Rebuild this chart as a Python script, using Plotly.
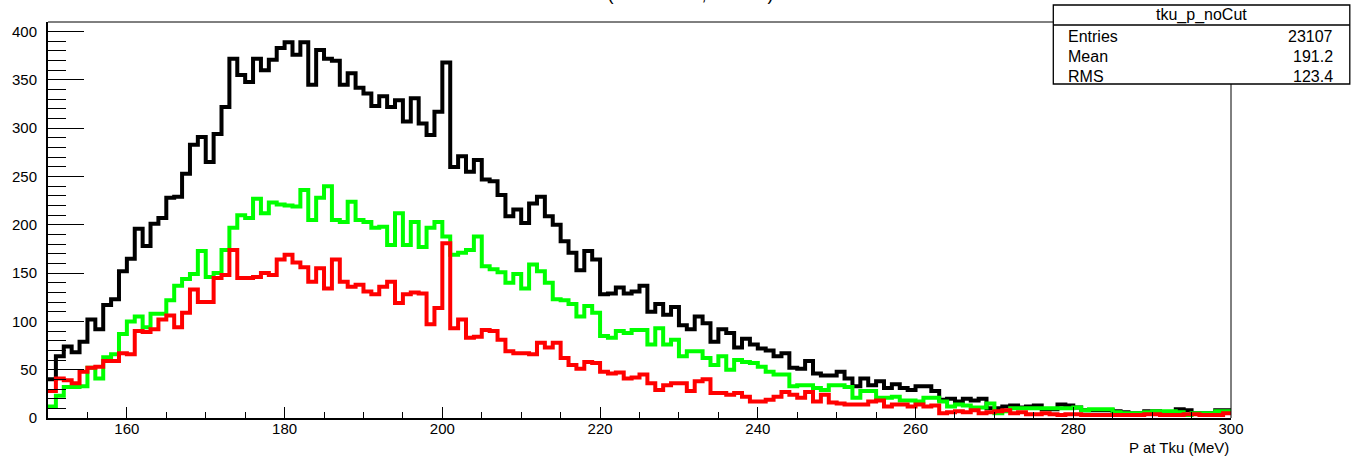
import plotly.graph_objects as go

# ---- data (1 MeV bins from 150 to 300 MeV) ----
bin_low = 150
bin_high = 300

black_counts = [
    40, 64, 74, 68, 79, 102, 92, 117, 123, 152,
    165, 196, 178, 201, 207, 228, 229, 253, 283, 291,
    265, 294, 322, 372, 355, 348, 372, 360, 371, 383,
    389, 376, 389, 345, 381, 372, 370, 345, 357, 342,
    336, 323, 333, 322, 329, 307, 331, 305, 293, 317,
    368, 260, 271, 255, 267, 247, 245, 231, 209, 216,
    202, 222, 229, 209, 200, 183, 171, 153, 173, 164,
    128, 129, 135, 129, 131, 137, 110, 118, 107, 115,
    96, 92, 105, 98, 79, 92, 88, 73, 82, 76,
    72, 70, 64, 67, 52, 51, 59, 46, 44, 44,
    48, 41, 33, 41, 34, 38, 31, 35, 31, 29,
    33, 33, 28, 19, 20, 17, 20, 18, 20, 10,
    10, 12, 13, 11, 12, 13, 9, 9, 14, 13,
    11, 8, 8, 8, 8, 7, 6, 5, 5, 7,
    7, 6, 6, 9, 8, 5, 5, 5, 8, 8,
]

green_counts = [
    12, 23, 32, 32, 33, 52, 41, 63, 66, 87,
    100, 105, 94, 108, 108, 122, 137, 144, 149, 173,
    146, 150, 174, 197, 210, 207, 227, 212, 223, 221,
    220, 219, 236, 205, 228, 240, 205, 203, 224, 205,
    203, 197, 198, 179, 212, 179, 203, 177, 197, 203,
    188, 169, 171, 174, 188, 157, 154, 151, 140, 149,
    134, 159, 152, 140, 123, 122, 118, 105, 116, 109,
    85, 83, 90, 88, 91, 91, 76, 93, 76, 81,
    64, 69, 69, 62, 55, 64, 50, 60, 58, 57,
    53, 48, 45, 45, 33, 34, 34, 31, 29, 34,
    34, 32, 21, 28, 28, 21, 21, 22, 18, 18,
    17, 21, 21, 17, 12, 14, 13, 11, 11, 15,
    5, 7, 10, 10, 10, 10, 10, 10, 10, 10,
    11, 8, 9, 9, 9, 6, 5, 5, 5, 6,
    7, 7, 7, 6, 3, 5, 5, 5, 7, 7,
]

red_counts = [
    28, 41, 39, 36, 48, 52, 53, 59, 59, 67,
    66, 90, 89, 92, 102, 106, 94, 109, 133, 120,
    120, 145, 148, 174, 145, 145, 146, 150, 148, 164,
    169, 161, 156, 141, 155, 134, 164, 141, 136, 138,
    131, 128, 136, 141, 119, 128, 130, 129, 97, 114,
    181, 93, 102, 83, 84, 91, 90, 81, 69, 67,
    67, 66, 78, 73, 78, 62, 55, 51, 58, 57,
    48, 46, 47, 41, 42, 45, 36, 29, 34, 36,
    36, 28, 38, 40, 26, 26, 24, 26, 22, 17,
    17, 19, 22, 27, 24, 21, 27, 17, 24, 16,
    15, 14, 14, 14, 17, 18, 12, 14, 14, 12,
    14, 12, 13, 5, 6, 7, 6, 8, 5, 6,
    7, 8, 5, 6, 4, 4, 5, 4, 3, 4,
    4, 3, 3, 3, 3, 3, 3, 3, 3, 4,
    4, 3, 3, 3, 4, 4, 3, 3, 3, 5,
]

y_tick_vals = [0, 50, 100, 150, 200, 250, 300, 350, 400]
x_tick_vals = [160, 180, 200, 220, 240, 260, 280, 300]

stats_title = "tku_p_noCut"
stats_names = ["Entries", "Mean", "RMS"]
stats_values = ["23107", "191.2", "123.4"]

x_title = "P at Tku (MeV)"
plot_title = "P at Tku (normalised, all cuts)"

# ---- figure ----
n_bins = len(black_counts)
width_bin = (bin_high - bin_low) / n_bins
edges = [bin_low + i * width_bin for i in range(n_bins + 1)]

FONT = "Liberation Sans, Arial, Helvetica, sans-serif"

fig = go.Figure()
for counts, color in [(black_counts, "#000000"), (green_counts, "#00ff00"), (red_counts, "#ff0000")]:
    fig.add_trace(go.Scatter(
        x=edges,
        y=list(counts) + [counts[-1]],
        mode="lines",
        line=dict(color=color, width=4, shape="hv"),
        hoverinfo="skip",
        showlegend=False,
        cliponaxis=True,
    ))

W, H = 1361, 456
L, R, T, B = 46, 130, 22, 38
pw = W - L - R
ph = H - T - B


def px(xp):
    return (xp - L) / pw


def py(yp):
    return (H - B - yp) / ph


fig.update_layout(
    width=W, height=H,
    margin=dict(l=L, r=R, t=T, b=B),
    paper_bgcolor="white",
    plot_bgcolor="white",
    font=dict(family=FONT, size=15, color="black"),
    xaxis=dict(
        range=[bin_low, bin_high],
        tickvals=x_tick_vals,
        ticktext=[str(v) for v in x_tick_vals],
        ticks="inside", ticklen=11, tickwidth=1, tickcolor="black",
        minor=dict(ticks="inside", ticklen=6, tickwidth=1, tickcolor="black", dtick=5, tick0=150),
        showgrid=False, zeroline=False,
        showline=True, linecolor="black", linewidth=2,
        tickfont=dict(size=15, family=FONT),
        ticklabelstandoff=-4,
    ),
    yaxis=dict(
        range=[0, 410],
        tickvals=y_tick_vals,
        ticktext=[str(v) for v in y_tick_vals],
        ticks="inside", ticklen=36, tickwidth=1, tickcolor="black",
        minor=dict(ticks="inside", ticklen=18, tickwidth=1, tickcolor="black", dtick=10, tick0=0),
        showgrid=False, zeroline=False,
        showline=True, linecolor="black", linewidth=2,
        tickfont=dict(size=15, family=FONT),
        ticklabelstandoff=6,
    ),
)

shapes = []
# frame top and right
shapes.append(dict(type="line", xref="paper", yref="paper", x0=0, x1=1, y0=1, y1=1,
                   line=dict(color="black", width=1), layer="above"))
shapes.append(dict(type="line", xref="paper", yref="paper", x0=1, x1=1, y0=0, y1=1,
                   line=dict(color="black", width=1), layer="above"))
# stats box
bx0, bx1, by0, by1 = 1053, 1350, 5, 84
shapes.append(dict(type="rect", xref="paper", yref="paper",
                   x0=px(bx0), x1=px(bx1), y0=py(by1), y1=py(by0),
                   fillcolor="white", line=dict(color="black", width=1.3), layer="above"))
shapes.append(dict(type="line", xref="paper", yref="paper",
                   x0=px(bx0), x1=px(bx1), y0=py(25), y1=py(25),
                   line=dict(color="black", width=1.3), layer="above"))
fig.update_layout(shapes=shapes)

ann = []
ann.append(dict(text=stats_title, xref="paper", yref="paper", x=px(1201), y=py(15),
                xanchor="center", yanchor="middle", showarrow=False,
                font=dict(size=16, family=FONT, color="black")))
row_y = [37, 57, 76]
for name, val, yy in zip(stats_names, stats_values, row_y):
    ann.append(dict(text=name, xref="paper", yref="paper", x=px(1066), y=py(yy),
                    xanchor="left", yanchor="middle", showarrow=False,
                    font=dict(size=16, family=FONT, color="black")))
    ann.append(dict(text=val, xref="paper", yref="paper", x=px(1335), y=py(yy),
                    xanchor="right", yanchor="middle", showarrow=False,
                    font=dict(size=16, family=FONT, color="black")))
# x-axis title, right aligned with the frame
ann.append(dict(text=x_title, xref="paper", yref="paper", x=1.0, y=py(447),
                xanchor="right", yanchor="middle", showarrow=False,
                font=dict(size=15, family=FONT, color="black")))
# plot title (clipped at the very top of the canvas, as in the reference)
ann.append(dict(text=plot_title, xref="paper", yref="paper", x=px(654), y=py(-6),
                xanchor="center", yanchor="middle", showarrow=False,
                font=dict(size=18, family=FONT, color="black")))
fig.update_layout(annotations=ann)

fig.write_html(
    "out.html",
    config={"displayModeBar": False},
    post_script="document.body.style.margin='0';document.body.style.padding='0';"
                "document.documentElement.style.overflow='hidden';",
)
